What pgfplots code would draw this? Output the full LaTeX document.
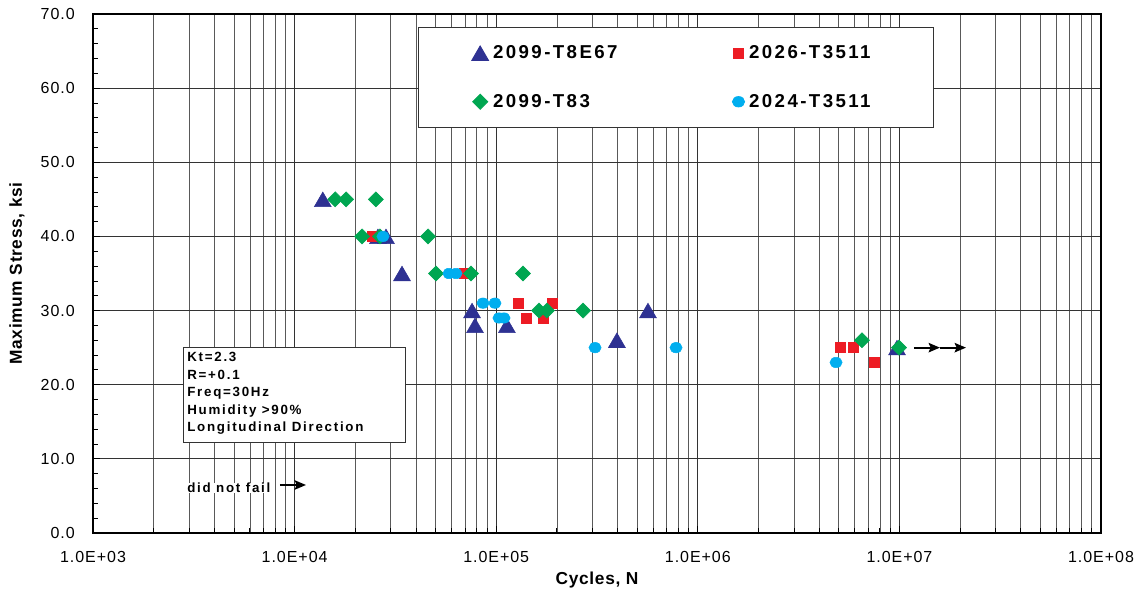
\documentclass[border=0pt]{standalone}
\usepackage{pgfplots}
\pgfplotsset{compat=1.18}
\usepackage{fontspec}
\setmainfont{Liberation Sans}
\newfontfamily\tickfont[LetterSpace=6]{Liberation Sans}
\newfontfamily\boxfont[LetterSpace=13]{Liberation Sans}
\newfontfamily\labfont[LetterSpace=4]{Liberation Sans}
\usetikzlibrary{arrows.meta}
\definecolor{cTri}{RGB}{46,49,146}
\definecolor{cSq}{RGB}{237,28,36}
\definecolor{cDia}{RGB}{0,166,81}
\definecolor{cCir}{RGB}{0,174,239}
\begin{document}
\begin{tikzpicture}
\path[use as bounding box] (-69.75pt,-49.5pt) rectangle (782.25pt,399.75pt);
\begin{axis}[
  at={(0,0)}, anchor=south west,
  scale only axis, width=756pt, height=389.25pt,
  xmode=log, log basis x=10,
  xmin=1e3, xmax=1e8, ymin=0, ymax=70,
  xtick={1e3,1e4,1e5,1e6,1e7,1e8},
  xticklabels={1.0E+03,1.0E+04,1.0E+05,1.0E+06,1.0E+07,1.0E+08},
  minor xtick={2e3,3e3,4e3,5e3,6e3,7e3,8e3,9e3,
               2e4,3e4,4e4,5e4,6e4,7e4,8e4,9e4,
               2e5,3e5,4e5,5e5,6e5,7e5,8e5,9e5,
               2e6,3e6,4e6,5e6,6e6,7e6,8e6,9e6,
               2e7,3e7,4e7,5e7,6e7,7e7,8e7,9e7},
  ytick={0,10,20,30,40,50,60,70},
  yticklabels={0.0,10.0,20.0,30.0,40.0,50.0,60.0,70.0},
  minor ytick={2,4,6,8,12,14,16,18,22,24,26,28,32,34,36,38,42,44,46,48,52,54,56,58,62,64,66,68},
  xmajorgrids=true, xminorgrids=true, ymajorgrids=true, yminorgrids=false,
  major grid style={black!80, line width=0.6pt},
  minor grid style={black!65, line width=0.5pt},
  axis line style={black, line width=0.8pt},
  tick pos=left, tick align=inside,
  major tick length=5pt, minor tick length=4pt,
  tick style={black, line width=0.6pt},
  xticklabel style={font=\tickfont\fontsize{12}{12}\selectfont, anchor=center, yshift=-18pt},
  yticklabel style={font=\tickfont\fontsize{12}{12}\selectfont, anchor=east, inner sep=0pt, xshift=-13.5pt},
  xlabel={Cycles, N},
  ylabel={Maximum Stress, ksi},
  every axis x label/.style={at={(rel axis cs:0.5,0)}, anchor=center, yshift=-35.25pt, font=\labfont\bfseries\fontsize{13}{13}\selectfont},
  every axis y label/.style={at={(rel axis cs:0,0.5)}, anchor=center, rotate=90, yshift=57pt, font=\labfont\bfseries\fontsize{13}{13}\selectfont},
  legend columns=2,
  legend cell align=left,
  legend image code/.code={\draw[#1] plot coordinates {(0pt,0pt)};},
  legend style={at={(rel axis cs:0.3224,0.975)}, anchor=north west,
    draw=black!80, line width=0.6pt, fill=white,
    inner xsep=40pt, inner ysep=13.75pt, row sep=25.1pt,
    font=\boxfont\bfseries\fontsize{14}{14}\selectfont,
    nodes={inner sep=0pt, text width=98pt, align=left},
    /tikz/every odd column/.append style={column sep=3.35pt},
    /tikz/every even column/.append style={column sep=81.5pt}},
]
\addplot[only marks, mark=triangle*, mark size=7.3pt, color=cTri,
  mark options={draw=cTri, fill=cTri, yshift=-1.8pt}] coordinates {
  (13800,45) (25900,40) (28400,40) (34100,35) (75900,30) (78500,28)
  (113000,28) (397000,26) (566000,30) (9730000,25)};
\addlegendentry{2099-T8E67}
\addplot[only marks, mark=square*, mark size=3.75pt, color=cSq,
  mark options={draw=cSq, fill=cSq}] coordinates {
  (24200,40) (69200,35) (128300,31) (140500,29) (170700,29) (189200,31)
  (5080000,25) (5890000,25) (7480000,23)};
\addlegendentry{2026-T3511}
\addplot[only marks, mark=square*, mark size=4pt, color=cDia,
  mark options={draw=cDia, fill=cDia, rotate=45}] coordinates {
  (15900,45) (18000,45) (25300,45) (21600,40) (26500,40) (45900,40)
  (50300,35) (75000,35) (135800,35) (163100,30) (178600,30) (269600,30)
  (6520000,26) (9950000,25)};
\addlegendentry{2099-T83}
\addplot[only marks, mark=*, mark size=4.6pt, color=cCir,
  mark options={draw=cCir, fill=cCir, yscale=0.85}] coordinates {
  (27450,40) (58300,35) (63200,35) (86000,31) (98600,31) (103200,29)
  (109300,29) (309200,25) (779800,25) (4850000,23)};
\addlegendentry{2024-T3511}
% did-not-fail arrows
\draw[line width=1.6pt, -{Stealth[length=8.5pt,width=7pt,inset=1.5pt]}] (axis cs:1.18e7,25) -- (axis cs:1.59e7,25);
\draw[line width=1.6pt, -{Stealth[length=8.5pt,width=7pt,inset=1.5pt]}] (axis cs:1.59e7,25) -- (axis cs:2.14e7,25);
% info box
\draw[black!80, line width=0.6pt, fill=white] (rel axis cs:0.0893,0.3584) rectangle (rel axis cs:0.3095,0.1753);
\node[anchor=north west, inner sep=0pt, align=left,
  font=\boxfont\bfseries\fontsize{10}{13.1}\selectfont]
  at (rel axis cs:0.0933,0.3487)
  {Kt=2.3\\R=+0.1\\Freq=30Hz\\Humidity >90\%\\Longitudinal Direction};
\node[anchor=west, inner sep=0pt, fill=white, font=\boxfont\bfseries\fontsize{10}{12}\selectfont]
  at (rel axis cs:0.0933,0.0867) {did not fail};
\draw[line width=1.6pt, -{Stealth[length=8.5pt,width=7pt,inset=1.5pt]}] (rel axis cs:0.1855,0.0925) -- (rel axis cs:0.2113,0.0925);
\end{axis}
\end{tikzpicture}
\end{document}
